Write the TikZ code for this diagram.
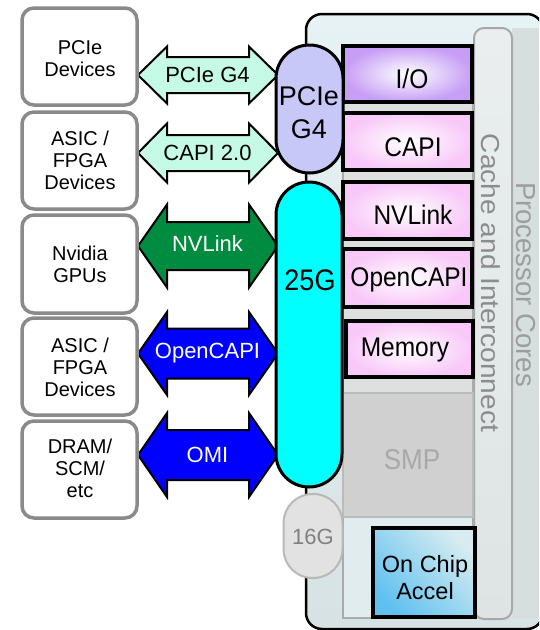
\documentclass[tikz,border=0pt]{standalone}
\usepackage{fontspec}
\setmainfont{Liberation Sans}
\definecolor{devgray}{RGB}{138,138,138}
\definecolor{aqua}{RGB}{196,250,230}
\definecolor{nvgreen}{RGB}{0,140,64}
\definecolor{oblue}{RGB}{0,0,255}
\definecolor{pilllav}{RGB}{200,200,248}
\definecolor{pillcyan}{RGB}{0,255,255}
\definecolor{pillgray}{RGB}{226,226,226}
\definecolor{pillgrayb}{RGB}{184,184,184}
\definecolor{chiptop}{RGB}{230,242,244}
\definecolor{chipbot}{RGB}{214,226,228}
\definecolor{panelfill}{RGB}{222,224,224}
\definecolor{panelline}{RGB}{170,170,170}
\definecolor{smpfill}{RGB}{208,208,208}
\definecolor{cachetop}{RGB}{234,238,238}
\definecolor{cachebot}{RGB}{222,228,228}
\definecolor{cacheline}{RGB}{168,168,168}
\definecolor{procfill}{RGB}{214,222,222}
\definecolor{iopurple}{RGB}{198,158,245}
\definecolor{boxpink}{RGB}{248,200,248}
\definecolor{accelblue}{RGB}{96,192,240}
\definecolor{accellight}{RGB}{214,236,240}
\definecolor{gtext}{RGB}{140,140,140}
\definecolor{smptext}{RGB}{168,168,168}
\newcommand{\vstr}[1]{\scalebox{1}[1.1]{#1}}
\begin{document}
\begin{tikzpicture}[x=1pt,y=-1pt,
  devbox/.style={draw=devgray,line width=3.5pt,rounded corners=12pt,fill=white},
  devtext/.style={font=\fontsize{20}{22}\selectfont,align=center,inner sep=0pt},
  arrowshape/.style={draw=black,line width=2pt,line join=miter},
  arrowtext/.style={font=\fontsize{22}{24}\selectfont,inner sep=0pt},
  chipbox/.style={draw=black,line width=3.5pt},
  boxtext/.style={font=\fontsize{24.5}{27}\selectfont,inner sep=0pt,align=center},
  pilltext/.style={font=\fontsize{27}{33}\selectfont,inner sep=0pt,align=center}]
\useasboundingbox (0,0) rectangle (539,630);
\begin{scope}
\clip (0,0) rectangle (539,630);
% chip body
\draw[line width=2.5pt,rounded corners=16pt,top color=chiptop,bottom color=chipbot] (306,14) rectangle (543,629);
% processor cores region
\fill[procfill] (512,28) rectangle (539,619);
% cache and interconnect column
\draw[draw=cacheline,line width=2pt,rounded corners=10pt,top color=cachetop,bottom color=cachebot] (474,28) rectangle (512,619);
% panel behind the boxes
\draw[draw=panelline,line width=1.2pt,fill=panelfill] (343,45) rectangle (473,618);
\fill[chiptop!60!chipbot] (344,518) rectangle (472.4,617.4);
% SMP
\draw[draw=panelline!80,line width=1.5pt,fill=smpfill] (343,393) rectangle (473,517);
\node[font=\fontsize{26}{28}\selectfont,text=smptext,inner sep=0pt] (smp) at (412,460) {\vstr{SMP}};
% boxes
\draw[chipbox,inner color=white,outer color=iopurple] (343,46) rectangle (472,102);
\draw[chipbox,inner color=white,outer color=boxpink] (343,113) rectangle (472,170);
\draw[chipbox,inner color=white,outer color=boxpink] (343,182) rectangle (472,239);
\draw[chipbox,inner color=white,outer color=boxpink] (343,249) rectangle (472,307);
\draw[chipbox,inner color=white,outer color=boxpink] (346,321) rectangle (473,377);
\draw[chipbox,top color=accelblue,bottom color=accellight,shading angle=135] (373,528) rectangle (475,617);
\node[boxtext] (io) at (412,79) {\vstr{I/O}};
\node[boxtext] (capi) at (413,147) {\vstr{CAPI}};
\node[boxtext] (nvl) at (413,215) {\vstr{NVLink}};
\node[boxtext] (ocapi) at (409,280) {\vstr{OpenCAPI}};
\node[boxtext] (mem) at (405,350) {\vstr{Memory}};
\node[font=\fontsize{23.5}{27}\selectfont,inner sep=0pt,align=center] (accel) at (425,578) {On Chip\\Accel};
% rotated labels
\node[rotate=-90,font=\fontsize{26}{28}\selectfont,text=gtext,inner sep=0pt] (cache) at (491,283) {\scalebox{1.08}[1]{Cache and Interconnect}};
\node[rotate=-90,font=\fontsize{27.5}{30}\selectfont,text=gtext!85,inner sep=0pt] (proc) at (526,284.5) {Processor Cores};
% arrows
\draw[arrowshape,fill=aqua] (138,75) -- (167,46.5) -- (167,57) -- (249,57) -- (249,46.5) -- (278,75) -- (249,103.5) -- (249,93) -- (167,93) -- (167,103.5) -- cycle;
\draw[arrowshape,fill=aqua] (138,153) -- (167,123.5) -- (167,135) -- (249,135) -- (249,123.5) -- (278,153) -- (249,182.5) -- (249,171) -- (167,171) -- (167,182.5) -- cycle;
\draw[arrowshape,fill=nvgreen] (138,246) -- (167,204.5) -- (167,222) -- (249,222) -- (249,204.5) -- (278,246) -- (249,287.5) -- (249,270) -- (167,270) -- (167,287.5) -- cycle;
\draw[arrowshape,fill=oblue] (138,353.5) -- (167,312) -- (167,328.5) -- (249,328.5) -- (249,312) -- (278,353.5) -- (249,395) -- (249,378.5) -- (167,378.5) -- (167,395) -- cycle;
\draw[arrowshape,fill=oblue] (138,455) -- (167,413) -- (167,430) -- (249,430) -- (249,413) -- (278,455) -- (249,497) -- (249,480) -- (167,480) -- (167,497) -- cycle;
\node[arrowtext] (a1) at (207.5,75) {PCIe G4};
\node[arrowtext] (a2) at (207.5,153) {CAPI 2.0};
\node[arrowtext,text=white] (a3) at (207.5,244) {NVLink};
\node[arrowtext,text=white] (a4) at (207.5,353) {OpenCAPI};
\node[arrowtext,text=white] (a5) at (207.5,455) {OMI};
% pills
\draw[line width=3pt,fill=pilllav,rounded corners=33.5pt] (276,45) rectangle (343,173);
\draw[line width=3pt,fill=pillcyan,rounded corners=33pt] (276,182) rectangle (342,487);
\draw[draw=pillgrayb,line width=2pt,fill=pillgray,rounded corners=29pt] (283.5,494) rectangle (342.5,578);
\node[pilltext] (pcie) at (309,113) {PCIe\\G4};
\node[pilltext] (g25) at (310,280) {\vstr{25G}};
\node[font=\fontsize{22}{24}\selectfont,text=gray,inner sep=0pt] (g16) at (313,537) {16G};
% device boxes
\draw[devbox] (22,8) rectangle (137,105);
\draw[devbox] (22,112) rectangle (137,209);
\draw[devbox] (22,215) rectangle (137,313);
\draw[devbox] (22,318) rectangle (137,415);
\draw[devbox] (22,421) rectangle (137,518);
\node[devtext] (d1) at (80,58.5) {PCIe\\Devices};
\node[devtext] (d2) at (80,160) {ASIC /\\FPGA\\Devices};
\node[devtext] (d3) at (80,264) {Nvidia\\GPUs};
\node[devtext] (d4) at (80,367) {ASIC /\\FPGA\\Devices};
\node[devtext] (d5) at (80,468) {DRAM/\\SCM/\\etc};
\end{scope}
\end{tikzpicture}
\end{document}
